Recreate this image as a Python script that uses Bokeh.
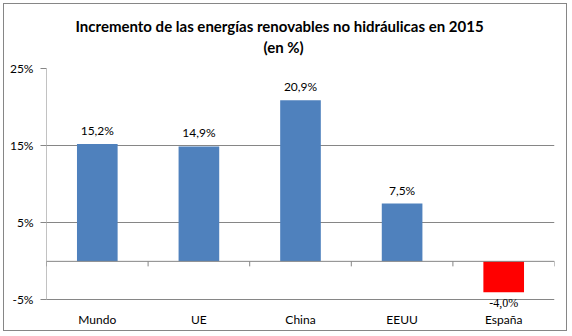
from bokeh.plotting import figure
from bokeh.models import FixedTicker, Span, ColumnDataSource, Range1d, LabelSet, Title
from bokeh.embed import file_html
from bokeh.resources import INLINE
from bokeh.core.properties import value

categories = ["Mundo", "UE", "China", "EEUU", "España"]
values = [15.2, 14.9, 20.9, 7.5, -4.0]
value_labels = ["15,2%", "14,9%", "20,9%", "7,5%", "-4,0%"]
bar_colors = ["#4F81BD", "#4F81BD", "#4F81BD", "#4F81BD", "#FF0000"]
y_ticks = [-5, 5, 15, 25]
y_tick_labels = ["-5%", "5%", "15%", "25%"]
title_line1 = "Incremento de las energías renovables no hidráulicas en 2015"
title_line2 = "(en %)"

FONT = "Lato"
GRID = "#868686"

n = len(categories)
xs = [i + 0.5 for i in range(n)]
src = ColumnDataSource(dict(x=xs, top=values, color=bar_colors, lab=value_labels))
pos = ColumnDataSource(dict(x=[x for x, v in zip(xs, values) if v >= 0],
                            y=[v for v in values if v >= 0],
                            lab=[l for l, v in zip(value_labels, values) if v >= 0]))
neg = ColumnDataSource(dict(x=[x for x, v in zip(xs, values) if v < 0],
                            y=[v for v in values if v < 0],
                            lab=[l for l, v in zip(value_labels, values) if v < 0]))

# extra room below the lowest tick so the negative value label is not clipped
p = figure(width=564, height=328, output_backend="svg", toolbar_location=None,
           x_range=Range1d(0, n), y_range=Range1d(y_ticks[0] - 1.5, y_ticks[-1]),
           min_border_left=42, min_border_right=14, min_border_top=64, min_border_bottom=21)
p.margin = (3, 0, 0, 3)
p.styles = {"border": "1px solid #868686"}
p.outline_line_color = None
p.background_fill_color = "white"
p.border_fill_color = "white"
p.title = None

for txt, sb, off in [(title_line2, 26, 217), (title_line1, -24, 29)]:
    t = Title(text=txt, align="left", offset=off, text_font=FONT, text_font_size="15px",
              text_font_style="bold", text_color="black", standoff=sb)
    p.add_layout(t, "above")

p.vbar(x="x", top="top", bottom=0, width=0.4, color="color", source=src, line_color=None)

# zero axis line with ticks at category boundaries
p.add_layout(Span(location=0, dimension="width", line_color=GRID, line_width=1))
bounds = list(range(n + 1))
p.segment(x0=bounds, y0=[0] * len(bounds), x1=bounds, y1=[-0.65] * len(bounds),
          line_color=GRID, line_width=1)
# value axis line, from lowest to highest tick
p.segment(x0=[0], y0=[y_ticks[0]], x1=[0], y1=[y_ticks[-1]], line_color=GRID, line_width=1)

p.text(x="x", y="y", text="lab", source=pos, text_align="center", text_baseline="bottom",
       y_offset=-6, text_font=value(FONT), text_font_size="12px", text_color="black")
p.add_layout(LabelSet(x="x", y="y", text="lab", source=neg, text_align="center",
                      text_baseline="top", y_offset=-4, text_font=FONT,
                      text_font_size="12px", text_color="black"))

# axes
p.xaxis.ticker = FixedTicker(ticks=xs)
p.xaxis.major_label_overrides = {x: c for x, c in zip(xs, categories)}
p.xaxis.axis_line_color = None
p.xaxis.major_tick_line_color = None
p.xaxis.minor_tick_line_color = None
p.xaxis.major_tick_out = 0
p.xaxis.major_tick_in = 0
p.xaxis.major_label_standoff = 0
p.xaxis.major_label_text_font = FONT
p.xaxis.major_label_text_font_size = "12px"
p.xaxis.major_label_text_color = "black"

p.yaxis.ticker = FixedTicker(ticks=y_ticks)
p.yaxis.major_label_overrides = {t: l for t, l in zip(y_ticks, y_tick_labels)}
p.yaxis.axis_line_color = None
p.yaxis.major_tick_line_color = GRID
p.yaxis.major_tick_out = 6
p.yaxis.major_tick_in = 0
p.yaxis.minor_tick_line_color = None
p.yaxis.major_label_standoff = 7
p.yaxis.major_label_text_font = FONT
p.yaxis.major_label_text_font_size = "12px"
p.yaxis.major_label_text_color = "black"

p.xgrid.grid_line_color = None
p.ygrid.ticker = FixedTicker(ticks=y_ticks)
p.ygrid.grid_line_color = GRID

open("out.html", "w").write(file_html(p, INLINE))
